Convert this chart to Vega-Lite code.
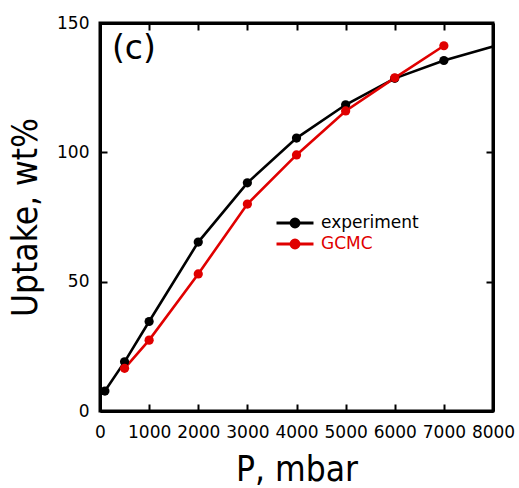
{
  "$schema": "https://vega.github.io/schema/vega-lite/v6.json",
  "width": 393,
  "height": 388,
  "autosize": {"type": "none"},
  "padding": {"left": 100, "top": 23, "right": 26, "bottom": 77},
  "background": "white",
  "config": {
    "font": "DejaVu Sans",
    "view": {"stroke": "black", "strokeWidth": 3},
    "axis": {
      "domain": true,
      "domainColor": "black",
      "domainWidth": 3,
      "tickColor": "black",
      "tickWidth": 2,
      "tickSize": -7,
      "grid": false,
      "labelFont": "DejaVu Sans",
      "labelFontSize": 17,
      "labelColor": "black",
      "labelOverlap": false,
      "labelFlush": false,
      "titleFont": "DejaVu Sans Condensed",
      "titleFontWeight": "normal",
      "titleColor": "black"
    }
  },
  "datasets": {
    "iso": [
      {"P": 100, "U": 7.7, "series": "experiment"},
      {"P": 500, "U": 19.0, "series": "experiment"},
      {"P": 1000, "U": 34.6, "series": "experiment"},
      {"P": 2000, "U": 65.3, "series": "experiment"},
      {"P": 3000, "U": 88.2, "series": "experiment"},
      {"P": 4000, "U": 105.5, "series": "experiment"},
      {"P": 5000, "U": 118.4, "series": "experiment"},
      {"P": 6000, "U": 128.6, "series": "experiment"},
      {"P": 7000, "U": 135.5, "series": "experiment"},
      {"P": 8000, "U": 140.9, "series": "experiment"},
      {"P": 500, "U": 16.5, "series": "GCMC"},
      {"P": 1000, "U": 27.4, "series": "GCMC"},
      {"P": 2000, "U": 53.0, "series": "GCMC"},
      {"P": 3000, "U": 80.0, "series": "GCMC"},
      {"P": 4000, "U": 99.0, "series": "GCMC"},
      {"P": 5000, "U": 116.0, "series": "GCMC"},
      {"P": 6000, "U": 128.8, "series": "GCMC"},
      {"P": 7000, "U": 141.2, "series": "GCMC"}
    ],
    "panel": [{"label": "(c)"}]
  },
  "resolve": {"axis": {"x": "independent", "y": "independent"}},
  "layer": [
    {
      "data": {"name": "iso"},
      "mark": {"type": "line", "strokeWidth": 2.6},
      "encoding": {
        "x": {
          "field": "P", "type": "quantitative",
          "scale": {"domain": [0, 8000], "nice": false},
          "axis": {"orient": "bottom", "format": "d", "values": [0,1000,2000,3000,4000,5000,6000,7000,8000], "title": "P, mbar", "titleFontSize": 35, "labelPadding": 20, "titlePadding": 12}
        },
        "y": {
          "field": "U", "type": "quantitative",
          "scale": {"domain": [0, 150], "nice": false},
          "axis": {"orient": "left", "format": "d", "values": [0, 50, 100, 150], "title": "Uptake, wt%", "titleFontSize": 35, "labelPadding": 18, "titlePadding": 13}
        },
        "color": {
          "field": "series", "type": "nominal",
          "scale": {"domain": ["experiment", "GCMC"], "range": ["#000000", "#e00000"]},
          "legend": {
            "orient": "none",
            "legendX": 184,
            "legendY": 189,
            "title": null,
            "symbolType": "M-2,0L2,0M0.43,0A0.43,0.43,0,1,1,-0.43,0A0.43,0.43,0,1,1,0.43,0Z",
            "symbolSize": 342,
            "symbolStrokeWidth": 3,
            "labelFontSize": 17,
            "labelOffset": 15,
            "rowPadding": 0,
            "encode": {
              "symbols": {"update": {"fill": {"scale": "color", "field": "value"}, "stroke": {"scale": "color", "field": "value"}, "opacity": {"value": 1}}},
              "labels": {"update": {"fill": {"scale": "color", "field": "value"}}}
            }
          }
        }
      }
    },
    {
      "data": {"name": "iso"},
      "transform": [{"filter": "datum.P <= 7000"}],
      "mark": {"type": "point", "filled": true, "size": 85, "opacity": 1},
      "encoding": {
        "x": {"field": "P", "type": "quantitative", "axis": null},
        "y": {"field": "U", "type": "quantitative", "axis": null},
        "color": {"field": "series", "type": "nominal", "legend": null}
      }
    },
    {
      "data": {"name": "panel"},
      "mark": {"type": "text", "align": "left", "baseline": "middle", "fontSize": 33, "font": "DejaVu Sans", "color": "black"},
      "encoding": {
        "x": {"datum": 244, "type": "quantitative", "axis": {"orient": "top", "values": [0,1000,2000,3000,4000,5000,6000,7000,8000], "labels": false, "title": null}},
        "y": {"datum": 140, "type": "quantitative", "axis": {"orient": "right", "values": [0, 50, 100, 150], "labels": false, "title": null}},
        "text": {"field": "label"}
      }
    }
  ]
}
